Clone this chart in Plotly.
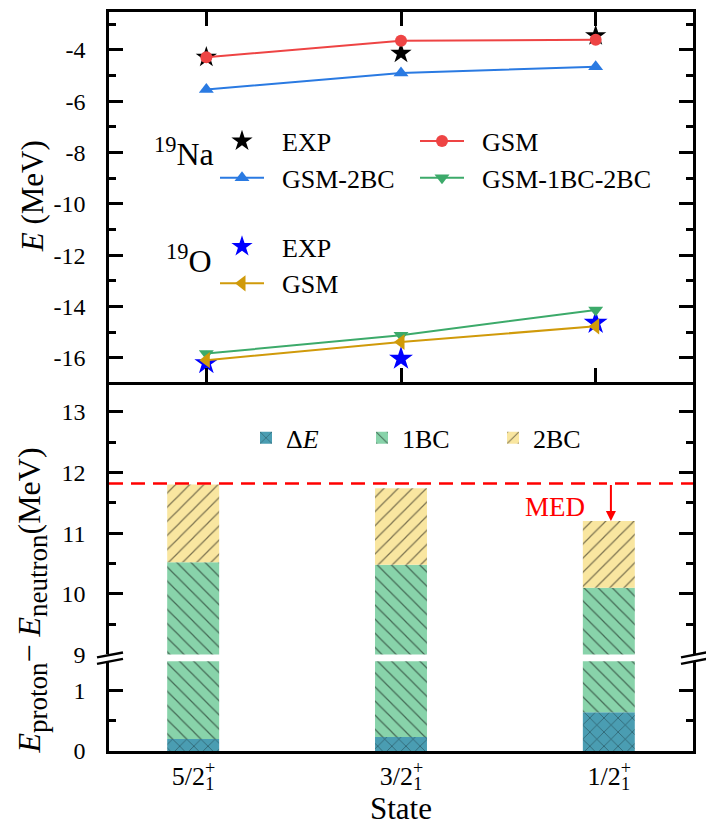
import plotly.graph_objects as go

# ---------------- data ----------------
states = ["5/2<sup><span style='letter-spacing:-10px'>+</span></sup><sub>1</sub>",
          "3/2<sup><span style='letter-spacing:-10px'>+</span></sup><sub>1</sub>",
          "1/2<sup><span style='letter-spacing:-10px'>+</span></sup><sub>1</sub>"]
state_pos = [0, 1, 2]

# top panel: energies (MeV)
na_exp = [-4.28, -4.13, -3.44]
na_gsm = [-4.28, -3.64, -3.60]
na_gsm_2bc = [-5.54, -4.90, -4.65]
gsm_1bc_2bc = [-15.83, -15.12, -14.13]
o_exp = [-16.20, -16.03, -14.63]
o_gsm = [-16.09, -15.38, -14.77]

# bottom panel: contributions to E_proton - E_neutron (MeV)
delta_e = [0.20, 0.23, 0.64]
bc1 = [10.32, 10.25, 9.46]
bc2 = [1.28, 1.26, 1.10]
med_value = 11.82

top_ticks = [-16, -14, -12, -10, -8, -6, -4]
upper_ticks = [9, 10, 11, 12, 13]
lower_ticks = [0, 1]

# ---------------- style ----------------
FONT = "Liberation Serif"
# the page adds an 8px body margin, so the figure is drawn 8px in from the corner
W, H = 706, 826
L, R, T, B = 101, 21, 1, 83
PW, PH = W - L - R, H - T - B
PLOT_LEFT, PLOT_BOTTOM = 109, 751  # in page pixels


def px_x(p):
    return (p - PLOT_LEFT) / PW


def px_y(p):
    return (PLOT_BOTTOM - p) / PH


RED = "#EE4444"
BLUE = "#2A7AE2"
GREEN = "#3CAA6A"
GOLD = "#D09A0A"
TEAL = "#4A9DB2"
MINT = "#88D3AA"
SAND = "#F9E6A0"
SP = "\u00a0\u00a0"  # gap between legend symbol and label

top_dom = [px_y(380), 1]
up_dom = [px_y(654), px_y(380)]
low_dom = [0, px_y(661)]

fig = go.Figure()

# top panel -----------------------------------------------------------
fig.add_trace(go.Scatter(x=state_pos, y=na_exp, mode="markers", name=SP + "EXP",
                         marker=dict(symbol="star", size=16, color="black"),
                         legend="legend"))
fig.add_trace(go.Scatter(x=state_pos, y=o_exp, mode="markers", name=SP + "EXP",
                         marker=dict(symbol="star", size=18, color="#0000FF"),
                         legend="legend3"))
fig.add_trace(go.Scatter(x=state_pos, y=na_gsm, mode="lines+markers", name=SP + "GSM",
                         line=dict(color=RED, width=2),
                         marker=dict(symbol="circle", size=12, color=RED),
                         legend="legend2"))
fig.add_trace(go.Scatter(x=state_pos, y=na_gsm_2bc, mode="lines+markers", name=SP + "GSM-2BC",
                         line=dict(color=BLUE, width=2),
                         marker=dict(symbol="triangle-up", size=13, color=BLUE),
                         legend="legend"))
fig.add_trace(go.Scatter(x=state_pos, y=gsm_1bc_2bc, mode="lines+markers", name=SP + "GSM-1BC-2BC",
                         line=dict(color=GREEN, width=2),
                         marker=dict(symbol="triangle-down", size=13, color=GREEN),
                         legend="legend2"))
fig.add_trace(go.Scatter(x=state_pos, y=o_gsm, mode="lines+markers", name=SP + "GSM",
                         line=dict(color=GOLD, width=2),
                         marker=dict(symbol="triangle-left", size=14, color=GOLD),
                         legend="legend3"))

# bottom panel (broken axis) -------------------------------------------
base_1bc = delta_e
base_2bc = [d + b for d, b in zip(delta_e, bc1)]

pat_de = dict(shape="x", fgcolor="black", bgcolor=TEAL, size=10, solidity=0.12, fillmode="overlay")
pat_1 = dict(shape="\\", fgcolor="black", bgcolor=MINT, size=10, solidity=0.12, fillmode="overlay")
pat_2 = dict(shape="/", fgcolor="black", bgcolor=SAND, size=10, solidity=0.12, fillmode="overlay")

# lower segment
fig.add_trace(go.Bar(x=state_pos, y=delta_e, base=[0, 0, 0], width=0.25, name="Δ<i>E</i>",
                     marker=dict(color=TEAL, pattern=pat_de, line=dict(width=0)),
                     xaxis="x2", yaxis="y3", legend="legend4"))
fig.add_trace(go.Bar(x=state_pos, y=bc1, base=base_1bc, width=0.25, name="1BC",
                     marker=dict(color=MINT, pattern=pat_1, line=dict(width=0)),
                     xaxis="x2", yaxis="y3", showlegend=False))
# upper segment
fig.add_trace(go.Bar(x=state_pos, y=bc1, base=base_1bc, width=0.25, name="1BC",
                     marker=dict(color=MINT, pattern=pat_1, line=dict(width=0)),
                     xaxis="x2", yaxis="y2", legend="legend5"))
fig.add_trace(go.Bar(x=state_pos, y=bc2, base=base_2bc, width=0.25, name="2BC",
                     marker=dict(color=SAND, pattern=pat_2, line=dict(width=0)),
                     xaxis="x2", yaxis="y2", legend="legend6"))

axis_common = dict(showline=True, linecolor="black", linewidth=2.5, showgrid=False,
                   zeroline=False, ticks="inside", ticklen=14, tickwidth=2.5,
                   tickcolor="black", tickfont=dict(family=FONT, size=24, color="black"))
minor_common = dict(ticks="inside", ticklen=7, tickwidth=2.5, tickcolor="black")

fig.update_layout(
    width=W, height=H, margin=dict(l=L, r=R, t=T, b=B),
    paper_bgcolor="white", plot_bgcolor="white",
    barmode="overlay",
    font=dict(family=FONT, size=24, color="black"),
    xaxis=dict(axis_common, domain=[0, 1], anchor="y", range=[-0.5, 2.5],
               tickvals=state_pos, showticklabels=False, mirror="ticks"),
    yaxis=dict(axis_common, domain=top_dom, anchor="x", range=[-16.92, -2.52],
               tickvals=top_ticks, ticktext=[str(v) for v in top_ticks], mirror="ticks",
               ticklabelstandoff=16,
               minor=dict(minor_common, tickvals=[v + 1 for v in top_ticks] + [-17])),
    xaxis2=dict(axis_common, domain=[0, 1], anchor="y3", range=[-0.405, 2.405],
                tickvals=state_pos, ticktext=states, ticks="",
                tickfont=dict(family=FONT, size=26, color="black")),
    yaxis2=dict(axis_common, domain=up_dom, anchor="x2", range=[9, 13.5],
                tickvals=upper_ticks, mirror="ticks", ticklabelstandoff=16,
                minor=dict(minor_common, tickvals=[v + 0.5 for v in upper_ticks])),
    yaxis3=dict(axis_common, domain=low_dom, anchor="x2", range=[0, 1.48],
                tickvals=lower_ticks, mirror="ticks", ticklabelstandoff=16,
                minor=dict(minor_common, tickvals=[v + 0.5 for v in lower_ticks])),
)

leg_common = dict(bgcolor="rgba(0,0,0,0)", borderwidth=0, xanchor="left", yanchor="top",
                  font=dict(family=FONT, size=26, color="black"))
fig.update_layout(
    legend=dict(leg_common, orientation="v", x=px_x(215), y=px_y(115), itemwidth=44),
    legend2=dict(leg_common, orientation="v", x=px_x(415), y=px_y(115), itemwidth=44),
    legend3=dict(leg_common, orientation="v", x=px_x(215), y=px_y(221), itemwidth=44),
    legend4=dict(leg_common, orientation="h", x=px_x(246), y=px_y(413)),
    legend5=dict(leg_common, orientation="h", x=px_x(362), y=px_y(413)),
    legend6=dict(leg_common, orientation="h", x=px_x(493), y=px_y(413)),
)

ann_font = dict(family=FONT, color="black")
fig.add_annotation(text="<sup>19</sup>Na", xref="paper", yref="paper", x=px_x(216), y=px_y(150),
                   xanchor="right", yanchor="middle", showarrow=False, font=dict(ann_font, size=32))
fig.add_annotation(text="<sup>19</sup>O", xref="paper", yref="paper", x=px_x(214), y=px_y(257),
                   xanchor="right", yanchor="middle", showarrow=False, font=dict(ann_font, size=32))
fig.add_annotation(text="<i>E</i> (MeV)", xref="paper", yref="paper", x=px_x(32), y=px_y(194),
                   xanchor="center", yanchor="middle",
                   textangle=-90, showarrow=False, font=dict(ann_font, size=31))
fig.add_annotation(text=("<i>E</i><sub><span style='font-size:27px'>proton</span></sub>"
                         "− <i>E</i><sub><span style='font-size:27px'>neutron</span></sub>(MeV)"),
                   xref="paper", yref="paper", x=px_x(32), y=px_y(600),
                   xanchor="center", yanchor="middle",
                   textangle=-90, showarrow=False, font=dict(ann_font, size=32))
fig.add_annotation(text="State", xref="paper", yref="paper", x=px_x(401), y=px_y(809),
                   xanchor="center", yanchor="middle", showarrow=False, font=dict(ann_font, size=31))

# MED marker
fig.add_shape(type="line", xref="x2 domain", yref="y2", x0=0, x1=1, y0=med_value, y1=med_value,
              line=dict(color="#FF0000", width=2.5, dash="14px,8px"))
fig.add_annotation(text="", xref="x2", yref="y2", x=2.01, y=bc2[2] + base_2bc[2],
                   axref="x2", ayref="y2", ax=2.01, ay=med_value, showarrow=True,
                   arrowhead=2, arrowsize=1, arrowwidth=2, arrowcolor="#FF0000")
fig.add_annotation(text="MED", xref="x2", yref="y2", x=1.74, y=11.43, showarrow=False,
                   xanchor="center", yanchor="middle",
                   font=dict(ann_font, size=27, color="#FF0000"))

# axis break marks (page pixels of the left and right frame lines)
for xc in (PLOT_LEFT, PLOT_LEFT + PW):
    for dy in (0, 6.5):
        fig.add_shape(type="line", xref="paper", yref="paper",
                      x0=px_x(xc - 12), y0=px_y(657 + dy), x1=px_x(xc + 14), y1=px_y(652 + dy),
                      line=dict(color="black", width=2.5))

fig.write_html("out.html")
